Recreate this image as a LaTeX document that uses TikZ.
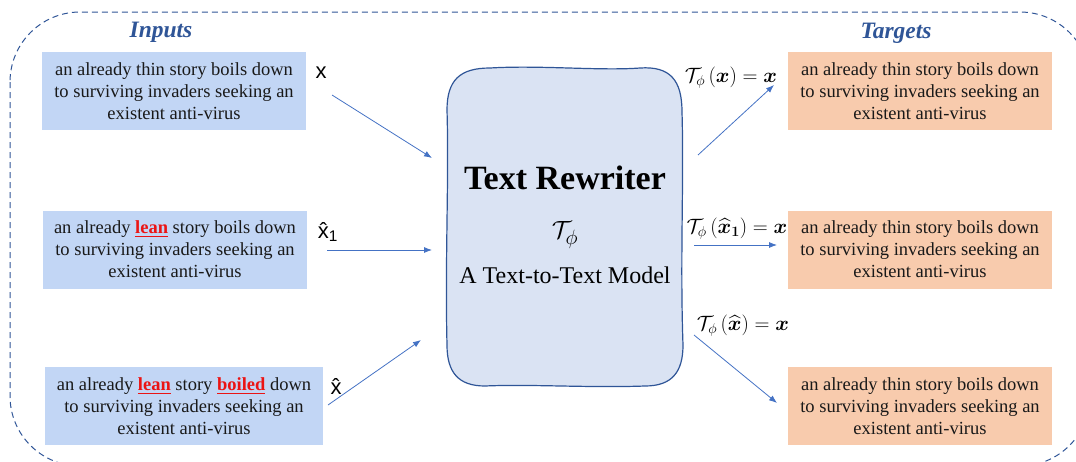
\documentclass[tikz,border=0pt]{standalone}
\usepackage{amsmath,bm}
\usepackage{fontspec}
\setmainfont{Liberation Serif}
\newfontfamily\labelfont{Liberation Sans}
\usetikzlibrary{arrows.meta}
\definecolor{inblue}{RGB}{194,214,245}
\definecolor{peach}{RGB}{248,203,173}
\definecolor{coreblue}{RGB}{218,227,243}
\definecolor{navy}{RGB}{47,85,151}
\definecolor{arrowblue}{RGB}{68,114,196}
\definecolor{hilite}{RGB}{235,20,20}
\newcommand{\edit}[1]{\textcolor{hilite}{\underline{\textbf{#1}}}}
\newcommand{\plainsent}{an already thin story boils down\\to surviving invaders seeking an\\existent anti-virus}
\tikzset{
  textbox/.style={minimum width=264pt, minimum height=78pt,
    align=center, inner sep=0pt, font=\fontsize{18.5}{22}\selectfont, text=black!90},
  inbox/.style={textbox, fill=inblue},
  outbox/.style={textbox, fill=peach},
  heading/.style={font=\fontsize{23.5}{26}\selectfont\bfseries\itshape, text=navy},
  xlabel/.style={font=\labelfont\fontsize{22}{24}\selectfont, inner sep=0pt},
  mlabel/.style={font=\fontsize{19.5}{22}\selectfont, inner sep=0pt},
  flow/.style={draw=arrowblue, line width=0.8pt, -{Latex[length=8pt,width=6pt]}}
}
\begin{document}
\begin{tikzpicture}[x=1pt,y=-1pt]
\useasboundingbox (0,0) rectangle (1076,461);
% dashed frame around everything
\draw[navy, line width=1pt, dash pattern=on 6pt off 4pt, rounded corners=70pt]
  (10,12) rectangle (1090,466);

% headings
\node[heading] (inputs) at (161,32) {Inputs};
\node[heading] (targets) at (896,33) {Targets};

% input sentences
\node[inbox] (in1) at (174,91) {\plainsent};
\node[inbox] (in2) at (175,249.5) {an already \edit{lean} story boils down\\to surviving invaders seeking an\\existent anti-virus};
\node[inbox, minimum width=278pt] (in3) at (184,406) {an already \edit{lean} story \edit{boiled} down\\to surviving invaders seeking an\\existent anti-virus};

% target sentences
\node[outbox] (out1) at (920,91) {\plainsent};
\node[outbox] (out2) at (920,249.5) {\plainsent};
\node[outbox] (out3) at (920,406) {\plainsent};

% the rewriter: a hand-drawn rounded box
\draw[navy, line width=1.2pt, fill=coreblue]
  (447,110) .. controls (447,80) and (460,68) .. (490,68)
  .. controls (540,65) and (600,71) .. (640,68)
  .. controls (670,66) and (682,80) .. (682,112)
  .. controls (684,180) and (680,260) .. (683,345)
  .. controls (683,372) and (672,386) .. (645,386)
  .. controls (590,388) and (530,384) .. (485,386)
  .. controls (458,386) and (447,372) .. (447,345)
  .. controls (445,260) and (449,180) .. cycle;
\node[font=\fontsize{34}{38}\selectfont\bfseries] (title) at (565,178) {Text Rewriter};
\node[font=\fontsize{30}{32}\selectfont] (tphi) at (565,235) {$\mathcal{T}_{\phi}$};
\node[font=\fontsize{24}{28}\selectfont] (sub) at (565,275) {A Text-to-Text Model};

% input labels
\node[xlabel] (lx) at (321,73) {x};
\node[xlabel] (lx1) at (328,232) {\^{x}\textsubscript{1}};
\node[xlabel] (lxh) at (336,386) {\^{x}};

% output labels
\node[mlabel] (m1) at (731,78) {$\mathcal{T}_{\phi}\,(\bm{x}) = \bm{x}$};
\node[mlabel] (m2) at (737,229) {$\mathcal{T}_{\phi}\,(\widehat{\bm{x}}_{\bm{1}}) = \bm{x}$};
\node[mlabel] (m3) at (743,326) {$\mathcal{T}_{\phi}\,(\widehat{\bm{x}}) = \bm{x}$};

% arrow end points
\coordinate (a1s) at (332,95);  \coordinate (a1e) at (432,158);
\coordinate (a2s) at (327,250); \coordinate (a2e) at (432,250);
\coordinate (a3s) at (328,405); \coordinate (a3e) at (421,340);
\coordinate (b1s) at (698,155); \coordinate (b1e) at (774,85);
\coordinate (b2s) at (694,245); \coordinate (b2e) at (777,245);
\coordinate (b3s) at (694,335); \coordinate (b3e) at (777,403);

\draw[flow] (a1s) -- (a1e);
\draw[flow] (a2s) -- (a2e);
\draw[flow] (a3s) -- (a3e);
\draw[flow] (b1s) -- (b1e);
\draw[flow] (b2s) -- (b2e);
\draw[flow] (b3s) -- (b3e);
\end{tikzpicture}
\end{document}
